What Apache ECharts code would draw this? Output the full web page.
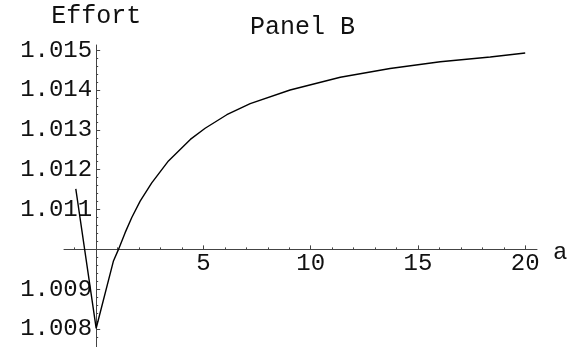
<!DOCTYPE html>
<html>
<head>
<meta charset="utf-8">
<script src="https://cdn.jsdelivr.net/npm/echarts@6/dist/echarts.min.js"></script>
<style>
  html, body { margin: 0; padding: 0; background: #fff; }
  #chart { width: 577px; height: 347px; }
</style>
</head>
<body>
<div id="chart"></div>
<script>
// Effort as a function of a
const aValues = [-0.95, 0, 0.8, 1.04, 1.35, 1.66, 2.05, 2.59, 3.37, 4.39, 5.08, 6.09, 7.18, 9.04, 11.38, 13.7, 16.04, 18.37, 20];
const effort  = [1.01152, 1.00802, 1.0097, 1.0100, 1.01042, 1.0108, 1.01121, 1.01167, 1.01222, 1.01276, 1.01304, 1.01338, 1.01366, 1.0140, 1.01432, 1.01454, 1.01471, 1.01483, 1.01493];

// Axis ranges and where the axes cross
const xRange = [-1.5, 20.55];
const yRange = [1.00755, 1.01513];
const xCross = 0;      // y axis drawn at a = 0
const yCross = 1.010;  // a axis drawn at Effort = 1.010

// Tick positions and labels
const xMajorTicks = [5, 10, 15, 20];
const xMinorTicks = [-1, 1, 2, 3, 4, 6, 7, 8, 9, 11, 12, 13, 14, 16, 17, 18, 19];
const yMajorTicks = [1.008, 1.009, 1.011, 1.012, 1.013, 1.014, 1.015];
const yMinorTicks = [1.0078, 1.0082, 1.0084, 1.0086, 1.0088, 1.0092, 1.0094, 1.0096, 1.0098,
                     1.0102, 1.0104, 1.0106, 1.0108, 1.0112, 1.0114, 1.0116, 1.0118,
                     1.0122, 1.0124, 1.0126, 1.0128, 1.0132, 1.0134, 1.0136, 1.0138,
                     1.0142, 1.0144, 1.0146, 1.0148];

const W = 577, H = 347;
const grid = { left: 64, right: 40, top: 45, bottom: 0 };
const gw = W - grid.left - grid.right;
const gh = H - grid.top - grid.bottom;

// shift the axes so that they cross inside the plot
const xAxisOffset = -(yCross - yRange[0]) / (yRange[1] - yRange[0]) * gh;
const yAxisOffset = -(xCross - xRange[0]) / (xRange[1] - xRange[0]) * gw;

const FONT = 'Liberation Mono';
const txt = { color: '#111', fontFamily: FONT, fontSize: 24 };
const axisLineStyle = { color: '#444', width: 1 };

const chart = echarts.init(document.getElementById('chart'), null, { renderer: 'canvas' });
chart.setOption({
  animation: false,
  backgroundColor: '#fff',
  title: {
    text: 'Panel B',
    left: 245, top: 10,
    textStyle: Object.assign({ fontWeight: 'normal', fontSize: 25 }, { color: '#111', fontFamily: FONT })
  },
  grid: grid,
  xAxis: [{
    type: 'value', min: xRange[0], max: xRange[1],
    position: 'bottom', offset: xAxisOffset,
    name: 'a', nameLocation: 'end', nameGap: 16,
    nameTextStyle: Object.assign({ verticalAlign: 'top', lineHeight: 6 }, txt),
    axisLine: { show: true, onZero: false, lineStyle: axisLineStyle },
    axisTick: { show: true, inside: true, length: 4, customValues: xMajorTicks, lineStyle: axisLineStyle },
    axisLabel: Object.assign({ show: true, customValues: xMajorTicks, margin: 2 }, txt),
    splitLine: { show: false }
  }, {
    type: 'value', min: xRange[0], max: xRange[1],
    position: 'bottom', offset: xAxisOffset,
    axisLine: { show: false },
    axisTick: { show: true, inside: true, length: 2, customValues: xMinorTicks, lineStyle: axisLineStyle },
    axisLabel: { show: false },
    splitLine: { show: false }
  }],
  yAxis: [{
    type: 'value', min: yRange[0], max: yRange[1],
    position: 'left', offset: yAxisOffset,
    name: 'Effort', nameLocation: 'end', nameGap: 16,
    nameTextStyle: Object.assign({ align: 'center', fontSize: 25 }, { color: '#111', fontFamily: FONT }),
    axisLine: { show: true, onZero: false, lineStyle: axisLineStyle },
    axisTick: { show: true, inside: true, length: 4, customValues: yMajorTicks, lineStyle: axisLineStyle },
    axisLabel: Object.assign({ show: true, customValues: yMajorTicks, margin: 4,
      formatter: v => v.toFixed(3) }, txt),
    splitLine: { show: false }
  }, {
    type: 'value', min: yRange[0], max: yRange[1],
    position: 'left', offset: yAxisOffset,
    axisLine: { show: false },
    axisTick: { show: true, inside: true, length: 2, customValues: yMinorTicks, lineStyle: axisLineStyle },
    axisLabel: { show: false },
    splitLine: { show: false }
  }],
  series: [{
    type: 'line',
    xAxisIndex: 0, yAxisIndex: 0,
    data: aValues.map((a, i) => [a, effort[i]]),
    showSymbol: false,
    smooth: false,
    lineStyle: { color: '#000', width: 1.4 },
    clip: false
  }]
});
</script>
</body>
</html>
